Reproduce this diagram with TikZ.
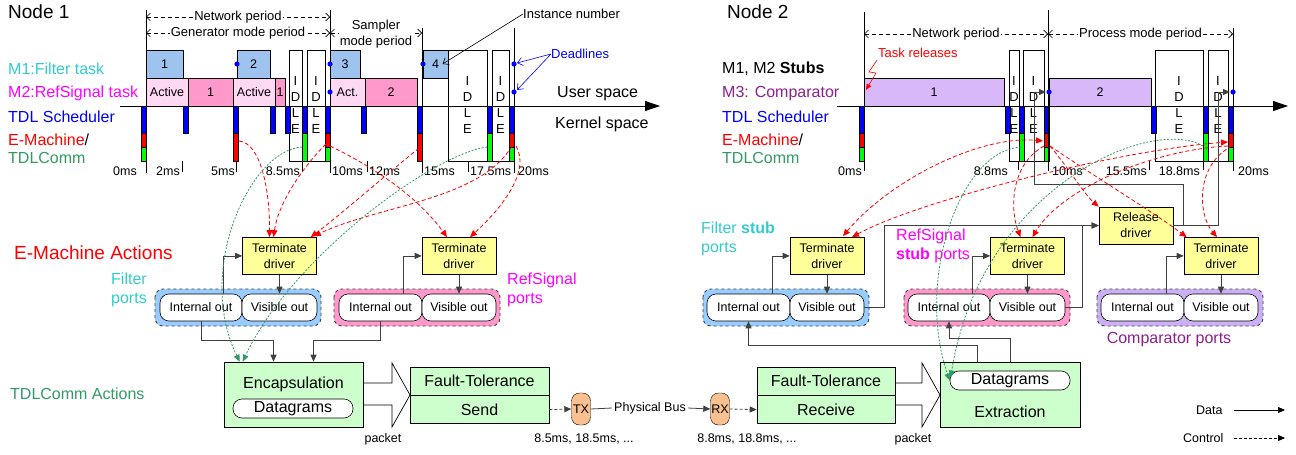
\documentclass[tikz,border=0pt]{standalone}
\usepackage{fontspec}
\setmainfont{Liberation Sans}
\usetikzlibrary{arrows.meta,positioning,calc}

\definecolor{cyanT}{HTML}{33CCCC}
\definecolor{magT}{HTML}{FF00FF}
\definecolor{grnT}{HTML}{339966}
\definecolor{purT}{HTML}{8E1E8E}
\definecolor{mOne}{HTML}{9DC3EE}
\definecolor{actv}{HTML}{FFD9F4}
\definecolor{mTwo}{HTML}{FF99CC}
\definecolor{mThree}{HTML}{D9B8FA}
\definecolor{drvY}{HTML}{FFFF99}
\definecolor{commG}{HTML}{CCFFCC}
\definecolor{txO}{HTML}{FAC08F}
\definecolor{portB}{HTML}{99CCFF}
\definecolor{portP}{HTML}{FF99CC}
\definecolor{portV}{HTML}{CCB0F6}
\definecolor{barG}{HTML}{00FF00}
\definecolor{lineG}{HTML}{404040}

\newcommand{\fbig}{\fontsize{19}{22}\selectfont}
\newcommand{\fmid}{\fontsize{16}{19}\selectfont}
\newcommand{\fsml}{\fontsize{12.5}{16}\selectfont}
\newcommand{\fper}{\fontsize{13}{16}\selectfont}
\newcommand{\idlebox}[2]{\draw[idle] (#1,50) rectangle node[idl]{I\\D\\L\\E} (#2,161);}

\tikzset{
  lbl/.style={anchor=base west, inner sep=0, font=\fmid, align=left},
  tlab/.style={inner sep=0, font=\fsml},
  ptxt/.style={fill=white, inner sep=1pt, font=\fper},
  tbox/.style={draw, line width=0.6},
  idle/.style={draw, fill=white, line width=0.6},
  idl/.style={align=center, inner sep=0, font=\fontsize{13}{16}\selectfont},
  drv/.style={draw, fill=drvY, minimum width=74, minimum height=37, align=center, inner sep=0, line width=0.6},
  port/.style={draw, fill=white, rounded corners=9, minimum height=27, inner sep=0, line width=0.6},
  grp/.style={draw=black!75, dashed, rounded corners=8, line width=0.9},
  comm/.style={draw, fill=commG, font=\fmid, inner sep=0, line width=0.6},
  tip/.style={-{Triangle[length=7pt,width=6pt]}},
  data/.style={draw=lineG, line width=0.8, tip},
  ctrl/.style={draw=lineG, line width=0.8, dash pattern=on 3pt off 2pt, tip},
  emc/.style={red, line width=0.8, dash pattern=on 4pt off 2.5pt, tip},
  emcb/.style={emc, {Triangle[length=7pt,width=6pt]}-{Triangle[length=7pt,width=6pt]}},
  tdc/.style={grnT, line width=0.8, dash pattern=on 2pt off 1.5pt, tip},
  per/.style={dash pattern=on 4pt off 3pt, line width=0.6, {Straight Barb[length=4pt,width=8pt]}-{Straight Barb[length=4pt,width=8pt]}},
  barb/.style={line width=0.6, -{Straight Barb[length=5pt,width=8pt]}},
  kb/.style={draw, line width=0.3}
}

\begin{document}
\begin{tikzpicture}[x=1pt,y=-1pt,font=\fsml]
\useasboundingbox (0,0) rectangle (1296,455);

% Node 1 time line
\node[lbl, font=\fbig] (node1) at (8,18.5) {Node 1};
\node[lbl, text=cyanT] (m1t) at (8,74.5) {M1:Filter task};
\node[lbl, text=magT] (m2t) at (8,97) {M2:RefSignal task};
\node[lbl, text=blue] (tdl1) at (8,122) {TDL Scheduler};
\node[lbl, text=red] (em1) at (8,145.5) {E-Machine\textcolor{black}{/}};
\node[lbl, text=grnT] (tc1) at (8,163.5) {TDLComm};

\draw[tbox, fill=mOne] (146,50) rectangle node{1} (183,78);
\draw[tbox, fill=mOne] (237,50) rectangle node{2} (270,78);
\draw[tbox, fill=mOne] (330,50) rectangle node{3} (360,78);
\draw[tbox, fill=mOne] (423,50) rectangle node (b4) {4} (448,78);
\draw[tbox, fill=actv] (146,78) rectangle node{Active} (188,106);
\draw[tbox, fill=mTwo] (188,78) rectangle node{1} (233,106);
\draw[tbox, fill=actv] (233,78) rectangle node{Active} (275,106);
\draw[tbox, fill=mTwo] (275,78) rectangle node{1} (285,106);
\draw[tbox, fill=actv] (330,78) rectangle node{Act.} (365,106);
\draw[tbox, fill=mTwo] (365,78) rectangle node{2} (417,106);
\idlebox{289}{302}
\idlebox{307}{325}
\idlebox{448}{487}
\idlebox{492}{509}

\draw[line width=0.8, -{Triangle[length=15pt,width=10pt]}] (120,106) -- (660,106);
\foreach \x in {141,183,233,270,285,302,325,361,417,487,509}
  \draw[kb, fill=blue] (\x,106) rectangle ++(5,27);
\foreach \x in {141,325,509} {
  \draw[kb, fill=red] (\x,133) rectangle ++(5,14);
  \draw[kb, fill=barG] (\x,147) rectangle ++(5,14);
}
\foreach \x in {233,417} \draw[kb, fill=red] (\x,133) rectangle ++(5,28);
\foreach \x in {302,487} \draw[kb, fill=barG] (\x,133) rectangle ++(5,28);

\draw (146,10) -- (146,173);
\draw (330,10) -- (330,173);
\draw (422,28) -- (422,173);
\draw (514,28) -- (514,173);
\foreach \x in {182,236,302,367,468} \draw (\x,161) -- (\x,172);

\node[tlab, anchor=base east] at (137,175) {0ms};
\node[tlab, anchor=base east] at (180,175) {2ms};
\node[tlab, anchor=base east] at (235,175) {5ms};
\node[tlab, anchor=base east] at (300,175) {8.5ms};
\node[tlab, anchor=base west] at (332,175) {10ms};
\node[tlab, anchor=base west] at (369,175) {12ms};
\node[tlab, anchor=base west] at (424,175) {15ms};
\node[tlab, anchor=base west] at (470,175) {17.5ms};
\node[tlab, anchor=base west] at (518,175) {20ms};

\draw[per] (146,17) -- node[ptxt]{Network period} (330,17);
\draw[per] (146,33) -- node[ptxt]{Generator mode period} (330,33);
\draw[per] (330,33) -- (422,33);
\node[ptxt, align=center] at (376,34) {Sampler\\mode period};

\foreach \p in {(237,64),(330,64),(330,92),(423,64),(514,64),(514,92)}
  \fill[blue] \p circle (2.6);
\coordinate (dla) at (517,63);
\coordinate (dlb) at (517,90);
\node[anchor=west, inner sep=0, font=\fper] (inst) at (523,14) {Instance number};
\draw[barb] (inst.west) -- (b4.east);
\node[anchor=west, inner sep=0, font=\fper, text=blue] (dl) at (551,54) {Deadlines};
\draw[barb, blue] (dl.west) -- (dla);
\draw[barb, blue] (dl.west) -- (dlb);
\node[lbl] (us1) at (557,97) {User space};
\node[lbl] (ks1) at (555,128) {Kernel space};

% Node 2 time line
\node[lbl, font=\fbig] (node2) at (727,18.5) {Node 2};
\node[lbl] (stb) at (722,73) {M1, M2 \textbf{Stubs}};
\node[lbl, text=purT] (m3t) at (722,97) {M3: Comparator};
\node[lbl, text=blue] (tdl2) at (722,122) {TDL Scheduler};
\node[lbl, text=red] (em2) at (722,145.5) {E-Machine\textcolor{black}{/}};
\node[lbl, text=grnT] (tc2) at (722,163.5) {TDLComm};

\draw[tbox, fill=mThree] (864,78) rectangle node{1} (1004,106);
\draw[tbox, fill=mThree] (1049,78) rectangle node{2} (1151,106);
\idlebox{1009}{1019}
\idlebox{1023}{1044}
\idlebox{1155}{1203}
\idlebox{1208}{1228}

\draw[line width=0.8, -{Triangle[length=15pt,width=10pt]}] (837,106) -- (1288,106);
\foreach \x in {859,1005,1019,1044,1151,1203,1228}
  \draw[kb, fill=blue] (\x,106) rectangle ++(5,27);
\foreach \x in {859,1044,1228} {
  \draw[kb, fill=red] (\x,133) rectangle ++(5,14);
  \draw[kb, fill=barG] (\x,147) rectangle ++(5,14);
}
\foreach \x in {1019,1203} \draw[kb, fill=barG] (\x,133) rectangle ++(5,28);

\draw (864,12) -- (864,171);
\draw (1048,10) -- (1048,171);
\draw (1233,28) -- (1233,171);
\foreach \x in {1018,1149,1203} \draw (\x,161) -- (\x,170);

\node[tlab, anchor=base east] at (862,175) {0ms};
\node[tlab, anchor=base east] at (1008,175) {8.8ms};
\node[tlab, anchor=base west] at (1052,175) {10ms};
\node[tlab, anchor=base east] at (1147,175) {15.5ms};
\node[tlab, anchor=base east] at (1200,175) {18.8ms};
\node[tlab, anchor=base west] at (1238,175) {20ms};

\draw[per] (864,34) -- node[ptxt]{Network period} (1048,34);
\draw[per] (1048,34) -- node[ptxt]{Process mode period} (1233,34);

\fill[blue] (1049,92) circle (2.6);
\fill[blue] (1233,92) circle (2.6);
\coordinate (rl10) at (1046,92);
\coordinate (rl20) at (1230,92);
\node[anchor=west, inner sep=0, font=\fper, text=red] (trel) at (878,53) {Task releases};
\draw[red, line width=0.6, -{Triangle[length=6pt,width=5pt]}] (877,60) -- (869,72) -- (876,73) -- (866,90);

% E-Machine actions, node 1
\node[lbl, font=\fbig, text=red] (ema) at (14,259) {E-Machine Actions};
\draw[grp, fill=portB] (155,289) rectangle (321,326);
\node[port, minimum width=82] (fint) at (201,307.5) {Internal out};
\node[port, minimum width=75] (fvis) at (279.5,307.5) {Visible out};
\node[drv, above=19pt of fvis] (fdrv) {Terminate\\driver};
\node[lbl, text=cyanT] (fpl) at (111,303) {Filter\\ports};

\draw[grp, fill=portP] (334,289) rectangle (500,326);
\node[port, minimum width=83] (rint) at (380.5,307.5) {Internal out};
\node[port, minimum width=74] (rvis) at (459,307.5) {Visible out};
\node[drv, above=19pt of rvis] (rdrv) {Terminate\\driver};
\node[lbl, text=magT] (rpl) at (507,303) {RefSignal\\ports};

% TDLComm actions, node 1
\node[lbl, text=grnT] (tca) at (10,399) {TDLComm Actions};
\node[comm, minimum width=139, minimum height=65] (enc) at (293.5,394.5) {};
\node[font=\fmid] (enct) at (293.5,384) {Encapsulation};
\node[port, font=\fmid, minimum width=120, minimum height=19] (dgs) at (293,408.5) {Datagrams};
\draw[line width=0.7] (363,383) -- (392,383) -- (392,363) -- (410,395) -- (392,427) -- (392,405) -- (363,405);
\node (pk1) at (383,439) {packet};
\node[comm, minimum width=139, minimum height=28] (fts) at (479.5,381) {Fault-Tolerance};
\node[comm, minimum width=139, minimum height=28, below=0pt of fts] (snd) {Send};
\node[draw, fill=txO, rounded corners=8, minimum width=19, minimum height=32, inner sep=0] (tx) at (581,409) {TX};
\node[inner sep=2pt] (bus) at (650,408) {Physical Bus};
\node[draw, fill=txO, rounded corners=8, minimum width=19, minimum height=32, inner sep=0] (rx) at (720,409) {RX};
\node (tt1) at (584,439) {8.5ms, 18.5ms, ...};
\node (tt2) at (747,439) {8.8ms, 18.8ms, ...};
\draw[ctrl] (snd.east) -- (tx.west);
\draw[lineG, line width=0.8] (tx.east) -- (bus.west);
\draw[data] (bus.east) -- (rx.west);

\draw[data] ($(fint.north)+(22,0)$) |- (fdrv.west);
\draw[data] (fdrv) -- (fvis);
\draw[data] ($(rint.north)+(22.5,0)$) |- (rdrv.west);
\draw[data] (rdrv) -- (rvis);
\draw[data] (fint.south) -- ++(0,19) -| ($(enc.north)+(-20,0)$);
\draw[data] (rint.south) -- ++(0,19) -| ($(enc.north)+(20,0)$);

% node 2 receive side
\node[comm, minimum width=138, minimum height=28] (ftr) at (826,381) {Fault-Tolerance};
\node[comm, minimum width=138, minimum height=28, below=0pt of ftr] (rcv) {Receive};
\draw[ctrl] (rx.east) -- (rcv.west);
\draw[line width=0.7] (895,383) -- (922,383) -- (922,363) -- (940,395) -- (922,427) -- (922,405) -- (895,405);
\node (pk2) at (913,439) {packet};
\node[comm, minimum width=140, minimum height=65] (ext) at (1010,394.5) {};
\node[port, font=\fmid, minimum width=120, minimum height=19] (edg) at (1010,380.5) {Datagrams};
\node[font=\fmid] (extt) at (1010,412) {Extraction};

\node[anchor=east] (ldat) at (1226,410) {Data};
\coordinate (ldate) at (1285,410);
\draw[data, draw=black] ($(ldat.east)+(8,0)$) -- (ldate);
\node[anchor=east] (lctl) at (1227,438) {Control};
\coordinate (lctle) at (1285,438);
\draw[ctrl, draw=black] ($(lctl.east)+(7,0)$) -- (lctle);

% E-Machine actions, node 2
\draw[grp, fill=portB] (703,289) rectangle (869,326);
\node[port, minimum width=83] (fsint) at (748.5,307.5) {Internal out};
\node[port, minimum width=74] (fsvis) at (827,307.5) {Visible out};
\node[drv, above=19pt of fsvis] (fsdrv) {Terminate\\driver};
\node[lbl, text=cyanT] (fspl) at (701,252) {Filter \textbf{stub}\\ports};

\draw[grp, fill=portP] (904,289) rectangle (1070,326);
\node[port, minimum width=82] (rsint) at (949,307.5) {Internal out};
\node[port, minimum width=75] (rsvis) at (1027.5,307.5) {Visible out};
\node[drv, above=19pt of rsvis] (rsdrv) {Terminate\\driver};
\node[lbl, text=magT] (rspl) at (896,259) {RefSignal\\\textbf{stub} ports};

\draw[grp, fill=portV] (1097,289) rectangle (1263,326);
\node[port, minimum width=83] (cint) at (1142.5,307.5) {Internal out};
\node[port, minimum width=74] (cvis) at (1221,307.5) {Visible out};
\node[drv, above=19pt of cvis] (cdrv) {Terminate\\driver};
\node[font=\fmid, text=purT] (cpl) at (1169,340) {Comparator ports};

\node[drv] (rel) at (1136,225.5) {Release\\driver};

\draw[data] ($(fsint.north)+(23.5,0)$) |- (fsdrv.west);
\draw[data] (fsdrv) -- (fsvis);
\draw[data] ($(rsint.north)+(23,0)$) |- (rsdrv.west);
\draw[data] (rsdrv) -- (rsvis);
\draw[data] ($(cint.north)+(23.5,0)$) |- (cdrv.west);
\draw[data] (cdrv) -- (cvis);
\draw[data] ($(ext.north)+(-33,0)$) |- ($(fsint.south)+(0,24)$) -- (fsint.south);
\draw[data] (ext.north) |- ($(rsint.south)+(0,17)$) -- (rsint.south);
\draw[data] (fsvis.east) -- ++(20,0) |- (rel.west);
\draw[data] (rsvis.east) -- ++(17,0) |- (rel.west);
\draw[data] (rel.east) -- (1183,225.5) |- (1034,184) |- (rl10);
\draw[data] (rel.east) -| (1218,92) -- (rl20);

% control flow of node 1
\draw[emc] (239,141) .. controls (262,143) and (270,195) .. ($(fdrv.north)+(-10,0)$);
\draw[emc] (326,144) .. controls (300,170) and (278,205) .. ($(fdrv.north)+(-6,0)$);
\draw[emc] (419,148) .. controls (380,180) and (340,215) .. ($(fdrv.north east)+(-6,0)$);
\draw[emc] (512,146) .. controls (480,200) and (380,205) .. ($(fdrv.north east)+(-3,-1)$);
\draw[emc] (330,146) .. controls (380,170) and (420,200) .. ($(rdrv.north)+(-12,0)$);
\draw[emc] (516,146) .. controls (530,170) and (505,205) .. ($(rdrv.north)+(11,0)$);
\draw[tdc] (302,147) .. controls (250,150) and (195,270) .. ($(enc.north west)+(16,0)$);
\draw[tdc] (487,147) .. controls (430,155) and (290,260) .. ($(enc.north west)+(19,0)$);

% control flow of node 2
\draw[emcb] ($(fsdrv.north)+(16,-1)$) .. controls (890,180) and (980,135) .. (1043,141);
\draw[emcb] ($(fsdrv.north)+(25,0)$) .. controls (920,200) and (1120,150) .. (1228,142);
\draw[emc] (1050,146) .. controls (1070,170) and (1085,195) .. (rel.north west);
\draw[emc] (1050,146) .. controls (1100,180) and (1150,210) .. ($(cdrv.north west)+(3,0)$);
\draw[emc] (1044,146) .. controls (1010,165) and (1010,210) .. ($(rsdrv.north)+(-7,0)$);
\draw[emc] (1228,146) .. controls (1150,150) and (1060,190) .. ($(rsdrv.north)+(5,0)$);
\draw[emc] (1232,146) .. controls (1195,165) and (1198,215) .. ($(cdrv.north)+(-4,0)$);
\draw[tdc] (1021,147) .. controls (960,150) and (915,280) .. (edg.west);
\draw[tdc] (1203,146) .. controls (1150,115) and (980,190) .. ($(edg.west)+(1,-3)$);
\end{tikzpicture}
\end{document}
